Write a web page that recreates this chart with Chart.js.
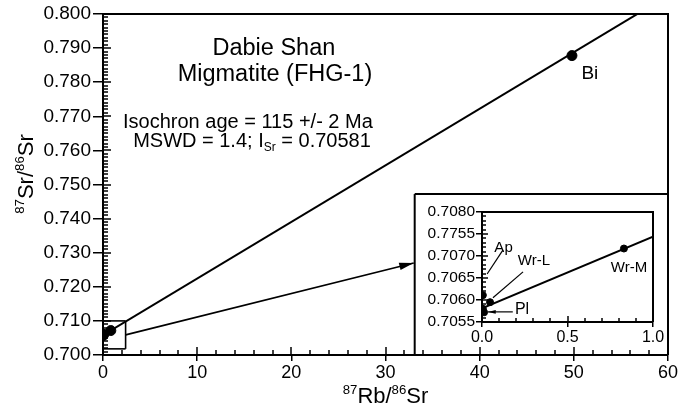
<!DOCTYPE html>
<html lang="en">
<head>
<meta charset="UTF-8">
<title>Dabie Shan Migmatite isochron</title>
<script src="https://cdn.jsdelivr.net/npm/chart.js@4.4.0/dist/chart.umd.min.js"></script>
<style>
    body { margin: 0; background: #fff; }
    #wrap { position: relative; width: 694px; height: 409px; }
    #main { position: absolute; left: 0; top: 0; }
    #inset { position: absolute; left: 416px; top: 196px; }
</style>
</head>
<body>
<div id="wrap">
    <canvas id="main" width="694" height="409"></canvas>
    <canvas id="inset" width="252" height="159"></canvas>
</div>
<script>
    // samples: 87Rb/86Sr vs 87Sr/86Sr
    const sampleNames = ['Ap', 'Wr-L', 'Pl', 'Pl', 'Wr-M', 'Bi'];
    const rbSr = [0.005, 0.047, 0.005, 0.012, 0.83, 49.8];
    const srSr = [0.70611, 0.70595, 0.70580, 0.70572, 0.70717, 0.7878];

    // isochron line (Isr = 0.70581)
    const isoX = [0, 60];
    const isoY = [0.70581, 0.80541];
    const insetIsoX = [0, 1.0];
    const insetIsoY = [0.70581, 0.70744];

    // axes
    const mainXTicks = [0, 10, 20, 30, 40, 50, 60];
    const mainYTicks = [0.700, 0.710, 0.720, 0.730, 0.740, 0.750, 0.760, 0.770, 0.780, 0.790, 0.800];
    const insetXTicks = [0, 0.5, 1.0];
    const insetXLabels = ['0.0', '0.5', '1.0'];
    const insetYTicks = [0.7055, 0.7060, 0.7065, 0.7070, 0.7075, 0.7080];
    const insetYLabels = ['0.7055', '0.7060', '0.7065', '0.7070', '0.7755', '0.7080'];

    const FONT = 'Liberation Sans, Arial, sans-serif';

    // draw text with super/subscripts, parts = [[text, 'sup'|'sub'|''], ...]
    function richText(ctx, parts, x, y, size, align) {
        let w = 0;
        parts.forEach(p => {
            ctx.font = (p[1] ? size * 0.6 : size) + 'px ' + FONT;
            w += ctx.measureText(p[0]).width;
        });
        let cx = align === 'center' ? x - w / 2 : x;
        ctx.textAlign = 'left';
        ctx.textBaseline = 'alphabetic';
        parts.forEach(p => {
            ctx.font = (p[1] ? size * 0.6 : size) + 'px ' + FONT;
            let dy = p[1] === 'sup' ? -size * 0.42 : (p[1] === 'sub' ? size * 0.22 : 0);
            ctx.fillText(p[0], cx, y + dy);
            cx += ctx.measureText(p[0]).width;
        });
    }

    function line(ctx, sx, sy, x1, y1, x2, y2, head) {
        const a = sx.getPixelForValue(x1), b = sy.getPixelForValue(y1);
        const c = sx.getPixelForValue(x2), d = sy.getPixelForValue(y2);
        ctx.beginPath();
        ctx.moveTo(a, b);
        ctx.lineTo(c, d);
        ctx.stroke();
        if (head) {
            const ang = Math.atan2(d - b, c - a);
            ctx.beginPath();
            ctx.moveTo(c, d);
            ctx.lineTo(c - head * Math.cos(ang - 0.25), d - head * Math.sin(ang - 0.25));
            ctx.lineTo(c - head * Math.cos(ang + 0.25), d - head * Math.sin(ang + 0.25));
            ctx.closePath();
            ctx.fill();
        }
    }

    // inward ticks along bottom and left axes
    function innerTicks(chart, xStep, yStep, minorLen, majorLen, xMajor, yMajor) {
        const ctx = chart.ctx, a = chart.chartArea;
        const sx = chart.scales.x, sy = chart.scales.y;
        ctx.save();
        ctx.strokeStyle = '#000';
        ctx.lineWidth = 1.5;
        let n = Math.round((sx.max - sx.min) / xStep);
        for (let i = 0; i <= n; i++) {
            const v = sx.min + i * xStep;
            const px = Math.round(sx.getPixelForValue(v));
            const len = xMajor.some(m => Math.abs(m - v) < xStep / 10) ? majorLen : minorLen;
            ctx.beginPath(); ctx.moveTo(px, a.bottom); ctx.lineTo(px, a.bottom - len); ctx.stroke();
        }
        n = Math.round((sy.max - sy.min) / yStep);
        for (let i = 0; i <= n; i++) {
            const v = sy.min + i * yStep;
            const py = Math.round(sy.getPixelForValue(v));
            const len = yMajor.some(m => Math.abs(m - v) < yStep / 10) ? majorLen : minorLen;
            ctx.beginPath(); ctx.moveTo(a.left, py); ctx.lineTo(a.left + len, py); ctx.stroke();
        }
        // top and right frame
        ctx.lineWidth = 2;
        ctx.beginPath();
        ctx.moveTo(a.left, a.top); ctx.lineTo(a.right, a.top); ctx.lineTo(a.right, a.bottom);
        ctx.stroke();
        ctx.restore();
    }

    const mainDecor = {
        id: 'mainDecor',
        afterDraw(chart) {
            const ctx = chart.ctx;
            const sx = chart.scales.x, sy = chart.scales.y;
            innerTicks(chart, 2, 0.001, 5, 8, mainXTicks, mainYTicks);
            ctx.save();
            ctx.strokeStyle = '#000';
            ctx.fillStyle = '#000';
            ctx.lineWidth = 1.6;
            // zoom box round the low Rb samples
            line(ctx, sx, sy, 0, 0.7100, 2.4, 0.7100);
            line(ctx, sx, sy, 2.4, 0.7100, 2.4, 0.7018);
            line(ctx, sx, sy, 2.4, 0.7018, 0, 0.7018);
            // arrow to inset
            line(ctx, sx, sy, 2.4, 0.7059, 33.0, 0.7270, 15);
            // inset frame
            ctx.lineWidth = 2;
            line(ctx, sx, sy, 33.1, 0.700, 33.1, 0.7472);
            line(ctx, sx, sy, 33.1, 0.7472, 60, 0.7472);

            // text
            const P = (x, y) => [sx.getPixelForValue(x), sy.getPixelForValue(y)];
            let p = P(18.15, 0.78798);
            richText(ctx, [['Dabie Shan', '']], p[0], p[1], 23.5, 'center');
            p = P(18.26, 0.78035);
            richText(ctx, [['Migmatite (FHG-1)', '']], p[0], p[1], 23.5, 'center');
            p = P(15.39, 0.76657);
            richText(ctx, [['Isochron age = 115 +/- 2 Ma', '']], p[0], p[1], 20, 'center');
            p = P(15.82, 0.76100);
            richText(ctx, [['MSWD = 1.4; I', ''], ['Sr', 'sub'], [' = 0.70581', '']], p[0], p[1], 20, 'center');
            p = P(51.7, 0.7809);
            richText(ctx, [[sampleNames[5], '']], p[0], p[1], 19, 'center');

            // axis titles
            const a = chart.chartArea;
            richText(ctx, [['87', 'sup'], ['Rb/', ''], ['86', 'sup'], ['Sr', '']], (a.left + a.right) / 2, 403, 22, 'center');
            ctx.translate(33, 174);
            ctx.rotate(-Math.PI / 2);
            richText(ctx, [['87', 'sup'], ['Sr/', ''], ['86', 'sup'], ['Sr', '']], 0, 0, 22, 'center');
            ctx.restore();
        }
    };

    const insetDecor = {
        id: 'insetDecor',
        afterDraw(chart) {
            const ctx = chart.ctx;
            const sx = chart.scales.x, sy = chart.scales.y;
            innerTicks(chart, 0.1, 0.0001, 4, 6, insetXTicks, insetYTicks);
            ctx.save();
            ctx.strokeStyle = '#000';
            ctx.fillStyle = '#000';
            ctx.lineWidth = 1.2;
            // leaders
            line(ctx, sx, sy, 0.123, 0.70714, 0.03, 0.70659);
            line(ctx, sx, sy, 0.24, 0.70664, 0.064, 0.70605);
            line(ctx, sx, sy, 0.18, 0.70573, 0.035, 0.70573, 8);
            const P = (x, y) => [sx.getPixelForValue(x), sy.getPixelForValue(y)];
            let p = P(0.126, 0.70709);
            richText(ctx, [[sampleNames[0], '']], p[0], p[1], 15, 'center');
            p = P(0.304, 0.70680);
            richText(ctx, [[sampleNames[1], '']], p[0], p[1], 15, 'center');
            p = P(0.86, 0.70664);
            richText(ctx, [[sampleNames[4], '']], p[0], p[1], 15, 'center');
            p = P(0.234, 0.70568);
            richText(ctx, [[sampleNames[2], '']], p[0], p[1], 16, 'center');
            ctx.restore();
        }
    };

    function axis(min, max, ticks, labels, fontSize, tickLen, pad, fit) {
        return {
            type: 'linear',
            min: min,
            max: max,
            afterBuildTicks: s => { s.ticks = ticks.map(v => ({ value: v })); },
            afterFit: fit,
            ticks: {
                color: '#000',
                font: { family: FONT, size: fontSize },
                padding: pad,
                maxRotation: 0,
                autoSkip: false,
                callback: (v, i) => labels[i]
            },
            grid: { drawOnChartArea: false, color: '#000', lineWidth: 1.5, tickLength: tickLen },
            border: { color: '#000', width: 2 }
        };
    }

    const points = rbSr.map((x, i) => ({ x: x, y: srSr[i] }));

    new Chart(document.getElementById('main'), {
        type: 'scatter',
        data: {
            datasets: [{
                type: 'line',
                data: isoX.map((x, i) => ({ x: x, y: isoY[i] })),
                borderColor: '#000',
                borderWidth: 2,
                pointRadius: 0,
                fill: false
            }, {
                data: points,
                backgroundColor: '#000',
                borderColor: '#000',
                pointRadius: 5
            }]
        },
        options: {
            responsive: false,
            devicePixelRatio: 1,
            animation: false,
            layout: { padding: { top: 14, right: 26, left: 0, bottom: 0 } },
            plugins: { legend: { display: false }, tooltip: { enabled: false } },
            scales: {
                x: axis(0, 60, mainXTicks, mainXTicks.map(String), 18, 6, 1, s => { s.height = 54; }),
                y: axis(0.700, 0.800, mainYTicks, mainYTicks.map(v => v.toFixed(3)), 19, 10, 2, s => { s.width = 103; })
            }
        },
        plugins: [mainDecor]
    });

    new Chart(document.getElementById('inset'), {
        type: 'scatter',
        data: {
            datasets: [{
                type: 'line',
                data: insetIsoX.map((x, i) => ({ x: x, y: insetIsoY[i] })),
                borderColor: '#000',
                borderWidth: 2,
                pointRadius: 0,
                fill: false
            }, {
                data: points.slice(0, 5),
                backgroundColor: '#000',
                borderColor: '#000',
                pointRadius: 3.5
            }]
        },
        options: {
            responsive: false,
            devicePixelRatio: 1,
            animation: false,
            layout: { padding: { top: 16, right: 15, left: 0, bottom: 0 } },
            plugins: { legend: { display: false }, tooltip: { enabled: false } },
            scales: {
                x: axis(0, 1.0, insetXTicks, insetXLabels, 16, 5, 1, s => { s.height = 33; }),
                y: axis(0.7055, 0.7080, insetYTicks, insetYLabels, 15.5, 6, 1, s => { s.width = 66; })
            }
        },
        plugins: [insetDecor]
    });
</script>
</body>
</html>
